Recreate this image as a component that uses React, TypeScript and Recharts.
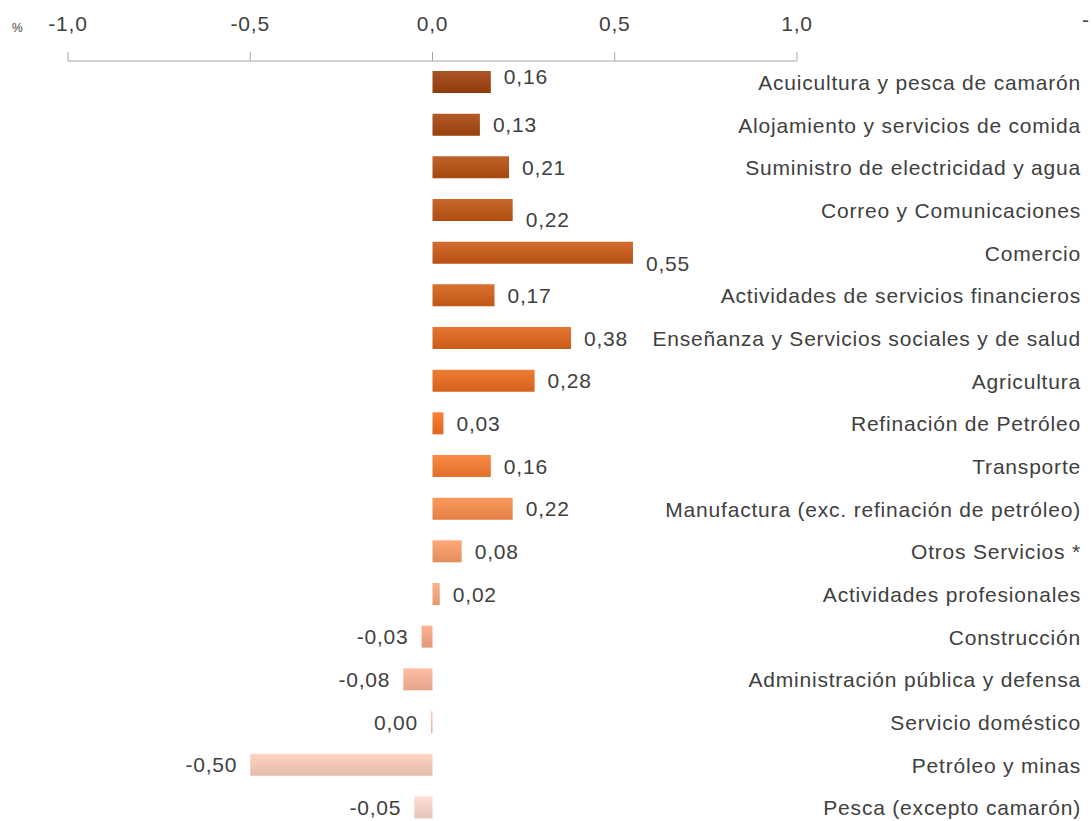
import { BarChart, Bar, XAxis, YAxis, Cell, LabelList } from 'recharts'

const categories = [
  'Acuicultura y pesca de camarón',
  'Alojamiento y servicios de comida',
  'Suministro de electricidad y agua',
  'Correo y Comunicaciones',
  'Comercio',
  'Actividades de servicios financieros',
  'Enseñanza  y Servicios sociales y de salud',
  'Agricultura',
  'Refinación de Petróleo',
  'Transporte',
  'Manufactura (exc. refinación de petróleo)',
  'Otros Servicios *',
  'Actividades profesionales',
  'Construcción',
  'Administración pública y defensa',
  'Servicio doméstico',
  'Petróleo y minas',
  'Pesca (excepto camarón)',
]

const values = [
  0.16, 0.13, 0.21, 0.22, 0.55, 0.17, 0.38, 0.28, 0.03, 0.16, 0.22, 0.08, 0.02,
  -0.03, -0.08, -0.004, -0.5, -0.05,
]

const xTicks = [-1, -0.5, 0, 0.5, 1]

const data = categories.map((name, i) => ({ name, value: values[i] }))

const COLORS = [
  '#9C4718', '#A44C1A', '#B0541C', '#B9591E', '#C35E20', '#CC6322',
  '#D66824', '#E06E27', '#E87329', '#EC7C35', '#EE8B4E', '#EF9A68',
  '#F0A47A', '#EFA585', '#F0B095', '#F1BBA6', '#F2C6B6', '#F2D0C5',
]

// excel put a few labels off-centre
const LABEL_NUDGE: Record<number, number> = { 0: -6, 3: 9, 4: 11 }

const FONT = '"Liberation Sans", Arial, sans-serif'
const TEXT = '#404040'
const FS = 21
const LS = 0.8

const fmt = (v: number) => (Math.round(v * 100) / 100).toFixed(2).replace('.', ',')

function shade(hex: string, amt: number) {
  const n = parseInt(hex.slice(1), 16)
  const f = (c: number) => Math.max(0, Math.min(255, Math.round(c + amt)))
  const r = f((n >> 16) & 255)
  const g = f((n >> 8) & 255)
  const b = f(n & 255)
  return `rgb(${r},${g},${b})`
}

function ValueLabel(props: any) {
  const { x, y, width, height, value, index } = props
  const left = Math.min(x, x + width)
  const right = Math.max(x, x + width)
  const neg = value < 0
  const cy = y + height / 2 + (LABEL_NUDGE[index] || 0)
  return (
    <text
      x={neg ? left - 13 : right + 13}
      y={cy}
      textAnchor={neg ? 'end' : 'start'}
      dominantBaseline="central"
      fontSize={FS}
      letterSpacing={LS}
      fontFamily={FONT}
      fill={TEXT}
    >
      {fmt(value)}
    </text>
  )
}

function CategoryTick(props: any) {
  const { y, payload } = props
  return (
    <text
      x={1081}
      y={y}
      textAnchor="end"
      dominantBaseline="central"
      fontSize={FS}
      letterSpacing={LS}
      fontFamily={FONT}
      fill={TEXT}
    >
      {payload.value}
    </text>
  )
}

export default function App() {
  return (
    <div
      style={{
        position: 'absolute',
        left: 0,
        top: 0,
        width: 1092,
        height: 821,
        overflow: 'hidden',
        background: '#fff',
        fontFamily: FONT,
      }}
    >
      <BarChart
        width={1092}
        height={830}
        data={data}
        layout="vertical"
        margin={{ top: 0, right: 0, bottom: 1, left: 68 }}
        barSize={22}
      >
        <defs>
          {COLORS.map((c, i) => (
            <linearGradient key={i} id={`bar${i}`} x1="0" y1="0" x2="0" y2="1">
              <stop offset="0%" stopColor={shade(c, 14)} />
              <stop offset="100%" stopColor={shade(c, -12)} />
            </linearGradient>
          ))}
        </defs>
        <XAxis
          type="number"
          orientation="top"
          domain={[-1, 1]}
          ticks={xTicks}
          allowDataOverflow
          height={61}
          tickSize={9}
          tickMargin={21}
          interval={0}
          tickFormatter={(v: number) => v.toFixed(1).replace('.', ',')}
          tick={{ fontSize: FS, fill: TEXT, fontFamily: FONT, letterSpacing: LS }}
          axisLine={{ stroke: '#A6A6A6' }}
          tickLine={{ stroke: '#A6A6A6' }}
        />
        <YAxis
          type="category"
          dataKey="name"
          orientation="right"
          width={295}
          axisLine={false}
          tickLine={false}
          interval={0}
          tick={<CategoryTick />}
        />
        <Bar dataKey="value" isAnimationActive={false}>
          {data.map((_, i) => (
            <Cell key={i} fill={`url(#bar${i})`} />
          ))}
          <LabelList dataKey="value" content={<ValueLabel />} />
        </Bar>
      </BarChart>
      <div style={{ position: 'absolute', left: 12, top: 21, fontSize: 12, color: TEXT }}>%</div>
      <div style={{ position: 'absolute', left: 1082, top: 8, fontSize: FS, color: TEXT }}>-</div>
    </div>
  )
}
